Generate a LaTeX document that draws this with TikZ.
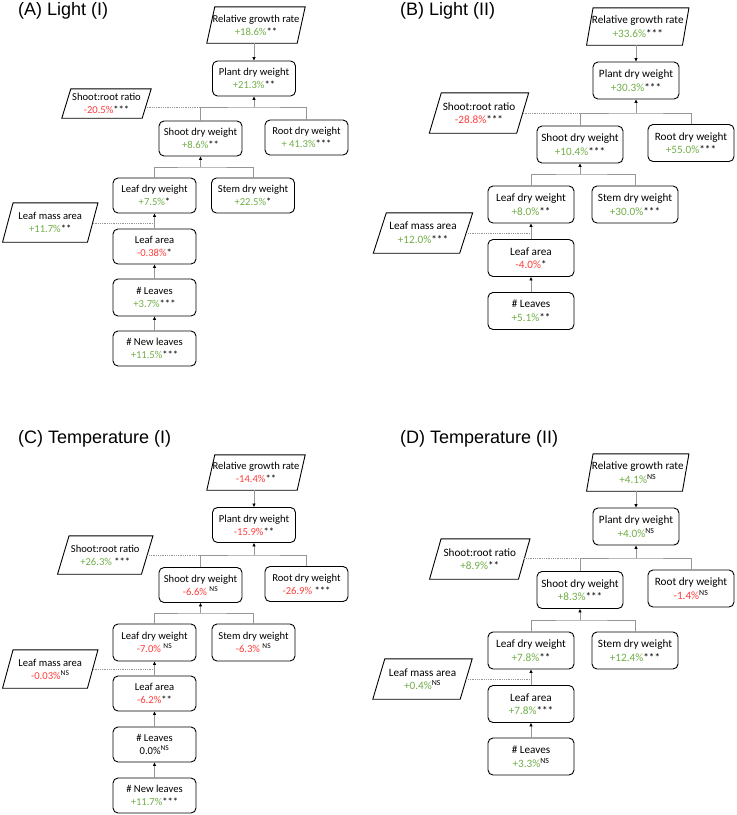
\documentclass[tikz,border=0pt]{standalone}
\usepackage{fontspec}
\setmainfont{Carlito}
\newfontfamily\titlefont{Liberation Sans}
\usetikzlibrary{arrows.meta}
\definecolor{grn}{RGB}{112,173,71}
\definecolor{rd}{RGB}{255,60,60}
\definecolor{cgray}{RGB}{150,150,150}
\newcommand\gv[1]{\textcolor{grn}{#1}}
\newcommand\rv[1]{\textcolor{rd}{#1}}
\newcommand\nsx{\textsuperscript{NS}}
\tikzset{
 box/.style={draw, line width=0.9pt, rounded corners=5pt, minimum width=83pt, minimum height=35pt, align=center, inner sep=1pt, font=\fontsize{10.6}{13}\selectfont},
 boxb/.style={box, minimum width=86pt, minimum height=37pt, font=\fontsize{11.2}{13.6}\selectfont},
 ptext/.style={align=center, inner sep=0pt, font=\fontsize{10.6}{13}\selectfont},
 ptextb/.style={ptext, font=\fontsize{11.2}{13.6}\selectfont},
 conn/.style={draw=cgray, line width=0.8pt},
 arr/.style={-{Triangle[black,length=3.5pt,width=3pt]}},
 dotl/.style={draw=cgray, line width=0.8pt, densely dotted},
 ttl/.style={anchor=base west, inner sep=0pt, font=\titlefont\fontsize{18}{20}\selectfont}
}
% [style] name x y edgewidth height halfslant text
\newcommand\mkpara[8][ptext]{%
 \node[#1, minimum width=#5pt, minimum height=#6pt] (#2) at (#3,#4) {#8};
 \draw[line width=0.9pt] ([xshift=-#7pt]#2.south west) -- ([xshift=-#7pt]#2.south east) -- ([xshift=#7pt]#2.north east) -- ([xshift=#7pt]#2.north west) -- cycle;}
\newcommand\wires[1]{%
 \draw[conn,arr] (rgr#1.south -| plant#1.north) -- (plant#1.north);
 \draw[conn] (shoot#1.north) |- (j#1) -| (root#1.north);
 \draw[conn,arr] (j#1) -- (plant#1.south);
 \draw[dotl] (sr#1.east |- j#1) -- (j#1 -| shoot#1.north);
 \draw[conn] (leafd#1.north) |- (k#1) -| (stem#1.north);
 \draw[conn,arr] (k#1) -- (shoot#1.south);
 \draw[dotl] (lma#1.east |- m#1) -- (m#1);
 \draw[conn,arr] (area#1.north) -- (leafd#1.south);
 \draw[conn,arr] (leaves#1.north) -- (area#1.south);}
\begin{document}
\begin{tikzpicture}[x=1pt,y=-1pt]
\useasboundingbox (0,0) rectangle (737,815);
% ---------------- Panel A ----------------
\node[ttl] (tA) at (18,15) {(A) Light (I)};
\mkpara{rgrA}{256}{25}{90}{36}{4}{Relative growth rate\\\gv{+18.6\%}**}
\node[box] (plantA) at (254,78.5) {Plant dry weight\\\gv{+21.3\%}**};
\mkpara{srA}{106.5}{103.5}{80}{29}{4.5}{Shoot:root ratio\\\rv{-20.5\%}***}
\node[box] (shootA) at (200.5,138.5) {Shoot dry weight\\\gv{+8.6\%}**};
\node[box] (rootA) at (306.5,137.5) {Root dry weight\\\gv{+ 41.3\%}***};
\node[box] (leafdA) at (154.5,195.5) {Leaf dry weight\\\gv{+7.5\%}*};
\node[box] (stemA) at (253,195.5) {Stem dry weight\\\gv{+22.5\%}*};
\mkpara{lmaA}{50.25}{222.5}{84.5}{39}{5.25}{Leaf mass area\\\gv{+11.7\%}**}
\node[box] (areaA) at (154.5,246.5) {Leaf area\\\rv{-0.38\%}*};
\node[box, minimum height=37pt] (leavesA) at (154.5,297.5) {\# Leaves\\\gv{+3.7\%}***};
\node[box] (newA) at (154.5,348.5) {\# New leaves\\\gv{+11.5\%}***};
\coordinate (jA) at (254,107);
\coordinate (kA) at (200.5,167);
\coordinate (mA) at (154.5,223);
\wires{A}
\draw[conn,arr] (newA.north) -- (leavesA.south);
% ---------------- Panel B ----------------
\node[ttl] (tB) at (400,15) {(B) Light (II)};
\mkpara[ptextb]{rgrB}{637.75}{26.5}{95.5}{37}{3.25}{Relative growth rate\\\gv{+33.6\%}***}
\node[boxb] (plantB) at (636,80.5) {Plant dry weight\\\gv{+30.3\%}***};
\mkpara[ptextb]{srB}{479}{113}{87}{40}{6}{Shoot:root ratio\\\rv{-28.8\%}***}
\node[boxb] (shootB) at (580,144.5) {Shoot dry weight\\\gv{+10.4\%}***};
\node[boxb] (rootB) at (691,143) {Root dry weight\\\gv{+55.0\%}***};
\node[boxb] (leafdB) at (531,204.5) {Leaf dry weight\\\gv{+8.0\%}**};
\node[boxb] (stemB) at (635,204.5) {Stem dry weight\\\gv{+30.0\%}***};
\mkpara[ptextb]{lmaB}{423}{233}{86}{40}{6.5}{Leaf mass area\\\gv{+12.0\%}***}
\node[boxb] (areaB) at (531,258) {Leaf area\\\rv{-4.0\%}*};
\node[boxb] (leavesB) at (531,311) {\# Leaves\\\gv{+5.1\%}**};
\coordinate (jB) at (636,113);
\coordinate (kB) at (580,174);
\coordinate (mB) at (531,233);
\wires{B}
% ---------------- Panel C ----------------
\node[ttl] (tC) at (18,443) {(C) Temperature (I)};
\mkpara{rgrC}{256}{472.5}{90}{35}{4}{Relative growth rate\\\rv{-14.4\%}**}
\node[box] (plantC) at (254,525) {Plant dry weight\\\rv{-15.9\%}**};
\mkpara{srC}{105.25}{555}{83.5}{38}{5.75}{Shoot:root ratio\\\gv{+26.3\%} ***}
\node[box] (shootC) at (200.5,585) {Shoot dry weight\\\rv{-6.6\%} \nsx};
\node[box] (rootC) at (306.5,584) {Root dry weight\\\rv{-26.9\%} ***};
\node[box, minimum height=37pt] (leafdC) at (154.5,642.5) {Leaf dry weight\\\rv{-7.0\%} \nsx};
\node[box, minimum height=37pt] (stemC) at (253.5,642.5) {Stem dry weight\\\rv{-6.3\%} \nsx};
\mkpara{lmaC}{50.25}{669}{84.5}{38}{5.25}{Leaf mass area\\\rv{-0.03\%}\nsx}
\node[box] (areaC) at (154.5,693.5) {Leaf area\\\rv{-6.2\%}**};
\node[box] (leavesC) at (154.5,744.5) {\# Leaves\\0.0\%\nsx};
\node[box] (newC) at (154.5,795.5) {\# New leaves\\\gv{+11.7\%}***};
\coordinate (jC) at (254,555);
\coordinate (kC) at (200.5,613);
\coordinate (mC) at (154.5,669);
\wires{C}
\draw[conn,arr] (newC.north) -- (leavesC.south);
% ---------------- Panel D ----------------
\node[ttl] (tD) at (400,443) {(D) Temperature (II)};
\mkpara[ptextb]{rgrD}{637.75}{472.5}{95.5}{37}{3.25}{Relative growth rate\\\gv{+4.1\%}\nsx}
\node[boxb] (plantD) at (636,526.5) {Plant dry weight\\\gv{+4.0\%}\nsx};
\mkpara[ptextb]{srD}{479.75}{559}{88.5}{40}{5.75}{Shoot:root ratio\\\gv{+8.9\%}**}
\node[boxb] (shootD) at (580,590) {Shoot dry weight\\\gv{+8.3\%}***};
\node[boxb] (rootD) at (691,588.5) {Root dry weight\\\rv{-1.4\%}\nsx};
\node[boxb] (leafdD) at (531,650.5) {Leaf dry weight\\\gv{+7.8\%}**};
\node[boxb] (stemD) at (635,650.5) {Stem dry weight\\\gv{+12.4\%}***};
\mkpara[ptextb]{lmaD}{422.5}{679}{87}{40}{6}{Leaf mass area\\\gv{+0.4\%}\nsx}
\node[boxb] (areaD) at (531,704) {Leaf area\\\gv{+7.8\%}***};
\node[boxb] (leavesD) at (531,756.5) {\# Leaves\\\gv{+3.3\%}\nsx};
\coordinate (jD) at (636,558);
\coordinate (kD) at (580,620);
\coordinate (mD) at (531,679);
\wires{D}
\end{tikzpicture}
\end{document}
